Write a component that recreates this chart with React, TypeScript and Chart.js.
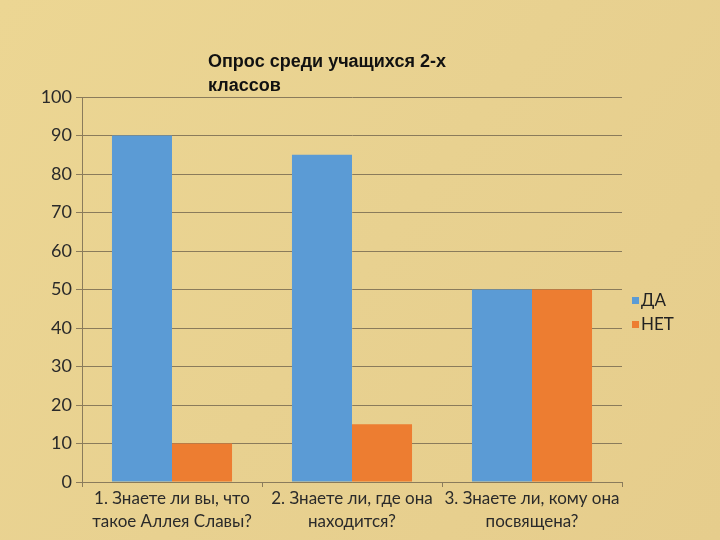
import React, { useEffect, useRef } from "react";
import { Chart, registerables } from "chart.js";

Chart.register(...registerables);

const categories: string[][] = [
  ["1. Знаете ли вы, что", "такое Аллея Славы?"],
  ["2. Знаете ли, где она", "находится?"],
  ["3. Знаете ли, кому она", "посвящена?"],
];
const yesValues = [90, 85, 50];
const noValues = [10, 15, 50];
const titleLines = ["Опрос среди учащихся 2-х", "классов"];
const FONT = "Lato, 'Open Sans', sans-serif";

const bgPlugin = {
  id: "bg",
  beforeDraw(chart: any) {
    const { ctx, width, height } = chart;
    ctx.save();
    const g = ctx.createLinearGradient(0, 0, width, height);
    g.addColorStop(0, "#ecd693");
    g.addColorStop(0.5, "#e8d190");
    g.addColorStop(1, "#e6cd8c");
    ctx.fillStyle = g;
    ctx.fillRect(0, 0, width, height);
    ctx.restore();
  },
};

const titlePlugin = {
  id: "customTitle",
  afterDraw(chart: any) {
    const { ctx } = chart;
    ctx.save();
    ctx.fillStyle = "#111";
    ctx.font = "bold 18px 'Liberation Sans', Arial, sans-serif";
    ctx.textBaseline = "alphabetic";
    ctx.textAlign = "left";
    titleLines.forEach((t, i) => ctx.fillText(t, 208, 67 + i * 24));
    ctx.restore();
  },
};

const legendPlugin = {
  id: "customLegend",
  afterDraw(chart: any) {
    const { ctx, chartArea } = chart;
    ctx.save();
    ctx.font = `17px ${FONT}`;
    ctx.textBaseline = "middle";
    ctx.textAlign = "left";
    const x = chartArea.right + 10;
    const y0 = 301;
    chart.data.datasets.forEach((ds: any, i: number) => {
      const y = y0 + i * 24;
      ctx.fillStyle = ds.backgroundColor;
      ctx.fillRect(x, y - 4, 7, 7);
      ctx.fillStyle = "#222";
      ctx.fillText(ds.label, x + 9, y);
    });
    ctx.restore();
  },
};

export default function App() {
  const ref = useRef<HTMLCanvasElement>(null);
  useEffect(() => {
    if (!ref.current) return;
    const gridColor = "#8a7b5b";
    const chart = new Chart(ref.current, {
      type: "bar",
      data: {
        labels: categories,
        datasets: [
          { label: "ДА", data: yesValues, backgroundColor: "#5b9bd5", categoryPercentage: 0.667, barPercentage: 1.0 },
          { label: "НЕТ", data: noValues, backgroundColor: "#ed7d31", categoryPercentage: 0.667, barPercentage: 1.0 },
        ],
      },
      options: {
        responsive: false,
        animation: false,
        layout: { padding: { top: 97, left: 0, right: 98, bottom: 0 } },
        plugins: {
          title: { display: false },
          tooltip: { enabled: false },
          legend: { display: false },
        },
        scales: {
          x: {
            grid: {
              drawOnChartArea: false,
              drawTicks: true,
              tickLength: 5,
              color: gridColor,
              offset: true,
            },
            border: { color: gridColor },
            afterFit: (s: any) => { s.height = 58; },
            ticks: {
              color: "#2a2a2a",
              maxRotation: 0,
              autoSkip: false,
              padding: 0,
              font: { family: FONT, size: 17, lineHeight: 1.35 },
            },
          },
          y: {
            min: 0,
            max: 100,
            afterFit: (s: any) => { s.width = 82; },
            ticks: {
              stepSize: 10,
              color: "#2a2a2a",
              padding: 4,
              font: { family: FONT, size: 18 },
            },
            grid: { color: gridColor, tickLength: 6 },
            border: { color: gridColor },
          },
        },
      } as any,
      plugins: [bgPlugin, titlePlugin, legendPlugin],
    });
    return () => chart.destroy();
  }, []);
  return (
    <div style={{ position: "fixed", left: 0, top: 0, width: 720, height: 540 }}>
      <canvas ref={ref} width={720} height={540} />
    </div>
  );
}
